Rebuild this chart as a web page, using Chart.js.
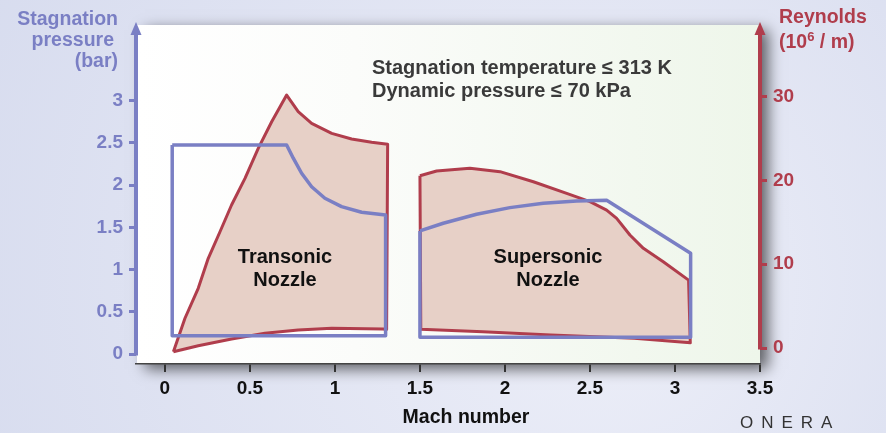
<!DOCTYPE html>
<html>
<head>
<meta charset="utf-8">
<script src="https://cdn.jsdelivr.net/npm/chart.js@4.4.1/dist/chart.umd.min.js"></script>
<style>
  html, body { margin: 0; padding: 0; background: #dde0f0; }
</style>
</head>
<body>
<canvas id="envelope" width="886" height="433"></canvas>
<script>
// tick labels
const machTicks = [0, 0.5, 1, 1.5, 2, 2.5, 3, 3.5]
const pressureTicks = [0, 0.5, 1, 1.5, 2, 2.5, 3]
const reynoldsTicks = [0, 10, 20, 30]

// Transonic nozzle, Reynolds envelope (10^6 / m)
const transonicReMach = [0.05, 0.118, 0.196, 0.255, 0.324, 0.392, 0.471, 0.549, 0.628, 0.716, 0.784, 0.863, 0.981, 1.098, 1.216, 1.31, 1.304, 1.284, 0.981, 0.784, 0.588, 0.392, 0.196, 0.05]
const transonicRe = [-0.44, 3.55, 7.13, 10.71, 13.88, 17.07, 20.26, 23.84, 27.01, 30.2, 28.21, 26.82, 25.63, 24.95, 24.56, 24.32, 2.2, 2.27, 2.35, 2.15, 1.75, 1.07, 0.27, -0.44]

// Transonic nozzle, stagnation pressure envelope (bar)
const transonicPMach = [0.043, 0.716, 0.755, 0.804, 0.863, 0.941, 1.039, 1.157, 1.298, 1.298, 0.043, 0.043]
const transonicP = [2.475, 2.475, 2.318, 2.14, 1.98, 1.844, 1.745, 1.678, 1.646, 0.215, 0.215, 2.475]

// Supersonic nozzle, Reynolds envelope
const supersonicReMach = [1.5, 1.598, 1.794, 1.971, 2.167, 2.363, 2.5, 2.598, 2.657, 2.735, 2.814, 2.931, 3.08, 3.09, 2.76, 2.27, 1.87, 1.505, 1.5]
const supersonicRe = [20.57, 21.13, 21.45, 21.05, 19.85, 18.47, 17.47, 16.47, 15.48, 13.49, 11.9, 10.3, 8.1, 0.63, 1.16, 1.55, 1.95, 2.23, 20.57]

// Supersonic nozzle, stagnation pressure envelope
const supersonicPMach = [1.5, 1.637, 1.833, 2.029, 2.225, 2.422, 2.598, 3.092, 3.092, 1.5, 1.5]
const supersonicP = [1.457, 1.548, 1.655, 1.733, 1.785, 1.812, 1.82, 1.193, 0.2, 0.2, 1.457]

const BLUE = '#7a7fc4'
const RED = '#b03d4c'
const FILL = '#e7d0c7'
const FONT = "'Liberation Sans', Arial, sans-serif"

function toPoints(xs, ys){
  return xs.map((x, i) => ({x: x, y: ys[i]}))
}

function fixedTicks(values){
  return scale => { scale.ticks = values.map(v => ({value: v})) }
}

// background + panel with drop shadow
const backdrop = {
  id: 'backdrop',
  beforeDraw(chart){
    const {ctx, width, height, chartArea} = chart
    ctx.save()
    const bg = ctx.createRadialGradient(620, 300, 20, 500, 250, 620)
    bg.addColorStop(0, '#eceef8')
    bg.addColorStop(1, '#d6dbee')
    ctx.fillStyle = bg
    ctx.fillRect(0, 0, width, height)

    const left = chartArea.left + 1, top = 25
    const w = chartArea.right - left, h = chartArea.bottom - top
    const panel = ctx.createLinearGradient(left, 0, chartArea.right, 0)
    panel.addColorStop(0, '#ffffff')
    panel.addColorStop(0.35, '#fbfcfa')
    panel.addColorStop(1, '#eef6ea')
    ctx.shadowColor = 'rgba(0,0,0,0.6)'
    ctx.shadowBlur = 14
    ctx.shadowOffsetX = 8
    ctx.shadowOffsetY = 5
    ctx.fillStyle = panel
    ctx.fillRect(left, top, w, h)
    ctx.restore()
  }
}

// axis lines with arrows, titles and notes
const decorations = {
  id: 'decorations',
  afterDraw(chart){
    const {ctx, chartArea, scales} = chart
    const tip = chartArea.top

    function axisLine(x, yBottom, color){
      ctx.strokeStyle = color
      ctx.fillStyle = color
      ctx.lineWidth = 4
      ctx.beginPath()
      ctx.moveTo(x, yBottom + 1.5)
      ctx.lineTo(x, tip + 10)
      ctx.stroke()
      ctx.beginPath()
      ctx.moveTo(x, tip)
      ctx.lineTo(x - 5.5, tip + 13)
      ctx.lineTo(x + 5.5, tip + 13)
      ctx.closePath()
      ctx.fill()
    }

    ctx.save()
    axisLine(chartArea.left, scales.yP.getPixelForValue(0), BLUE)
    axisLine(chartArea.right, scales.yR.getPixelForValue(0), RED)

    ctx.textBaseline = 'middle'
    ctx.font = 'bold 19.5px ' + FONT
    ctx.fillStyle = BLUE
    ctx.textAlign = 'right'
    ctx.fillText('Stagnation', 118, 20)
    ctx.fillText('pressure', 114, 41)
    ctx.fillText('(bar)', 118, 62)

    ctx.fillStyle = RED
    ctx.textAlign = 'left'
    ctx.fillText('Reynolds', 779, 18)
    ctx.fillText('(10', 779, 43)
    let w = ctx.measureText('(10').width
    ctx.font = 'bold 13px ' + FONT
    ctx.fillText('6', 779 + w, 37)
    let w2 = ctx.measureText('6').width
    ctx.font = 'bold 19.5px ' + FONT
    ctx.fillText(' / m)', 779 + w + w2, 43)

    ctx.fillStyle = '#111'
    ctx.textAlign = 'center'
    ctx.font = 'bold 19.5px ' + FONT
    ctx.fillText('Mach number', 466, 418)

    ctx.font = 'bold 20px ' + FONT
    ctx.fillStyle = '#3a3a3a'
    ctx.textAlign = 'left'
    ctx.fillText('Stagnation temperature \u2264 313 K', 372, 68)
    ctx.fillText('Dynamic pressure \u2264 70 kPa', 372, 91)

    ctx.fillStyle = '#111'
    ctx.textAlign = 'center'
    ctx.fillText('Transonic', 285, 257)
    ctx.fillText('Nozzle', 285, 280)
    ctx.fillText('Supersonic', 548, 257)
    ctx.fillText('Nozzle', 548, 280)

    ctx.font = '17px ' + FONT
    ctx.fillStyle = '#333'
    ctx.textAlign = 'left'
    ctx.letterSpacing = '8px'
    ctx.fillText('ONERA', 740, 423)
    ctx.restore()
  }
}

const ctx = document.getElementById('envelope').getContext('2d')
const envelopeChart = new Chart(ctx, {
  type: 'scatter',
  data: {
    datasets: [
      {
        label: 'Transonic pressure',
        data: toPoints(transonicPMach, transonicP),
        yAxisID: 'yP',
        showLine: true,
        borderColor: BLUE,
        borderWidth: 3.5,
        fill: false,
        pointRadius: 0
      },
      {
        label: 'Supersonic pressure',
        data: toPoints(supersonicPMach, supersonicP),
        yAxisID: 'yP',
        showLine: true,
        borderColor: BLUE,
        borderWidth: 3.5,
        fill: false,
        pointRadius: 0
      },
      {
        label: 'Transonic Reynolds',
        data: toPoints(transonicReMach, transonicRe),
        yAxisID: 'yR',
        showLine: true,
        borderColor: RED,
        backgroundColor: FILL,
        borderWidth: 3,
        fill: 'shape',
        pointRadius: 0
      },
      {
        label: 'Supersonic Reynolds',
        data: toPoints(supersonicReMach, supersonicRe),
        yAxisID: 'yR',
        showLine: true,
        borderColor: RED,
        backgroundColor: FILL,
        borderWidth: 3,
        fill: 'shape',
        pointRadius: 0
      }
    ]
  },
  options: {
    responsive: false,
    animation: false,
    layout: { padding: { top: 22, left: 0, right: 0, bottom: 0 } },
    elements: { line: { tension: 0, borderJoinStyle: 'round' } },
    plugins: {
      legend: { display: false },
      tooltip: { enabled: false }
    },
    scales: {
      x: {
        type: 'linear',
        min: -0.17,
        max: 3.5,
        afterBuildTicks: fixedTicks(machTicks),
        afterFit: scale => { scale.height = 69 },
        border: { display: true, color: '#444', width: 1.5 },
        grid: { drawOnChartArea: false, drawTicks: true, tickLength: 8, color: '#333', lineWidth: 2 },
        ticks: {
          padding: 5,
          color: '#111',
          font: { family: FONT, size: 19, weight: 'bold' },
          callback: v => String(v)
        }
      },
      yP: {
        type: 'linear',
        position: 'left',
        min: -0.118,
        max: 3.93,
        afterBuildTicks: fixedTicks(pressureTicks),
        afterFit: scale => { scale.width = 136 },
        border: { display: false },
        grid: { drawOnChartArea: false, drawTicks: true, tickLength: 7, color: BLUE, lineWidth: 3 },
        ticks: {
          padding: 6,
          color: BLUE,
          font: { family: FONT, size: 19, weight: 'bold' },
          callback: v => String(v)
        }
      },
      yR: {
        type: 'linear',
        position: 'right',
        min: -1.91,
        max: 38.92,
        afterBuildTicks: fixedTicks(reynoldsTicks),
        afterFit: scale => { scale.width = 126 },
        border: { display: false },
        grid: { drawOnChartArea: false, drawTicks: true, tickLength: 7, color: RED, lineWidth: 3 },
        ticks: {
          padding: 6,
          color: RED,
          font: { family: FONT, size: 19, weight: 'bold' },
          callback: v => String(v)
        }
      }
    }
  },
  plugins: [backdrop, decorations]
})
</script>
</body>
</html>
